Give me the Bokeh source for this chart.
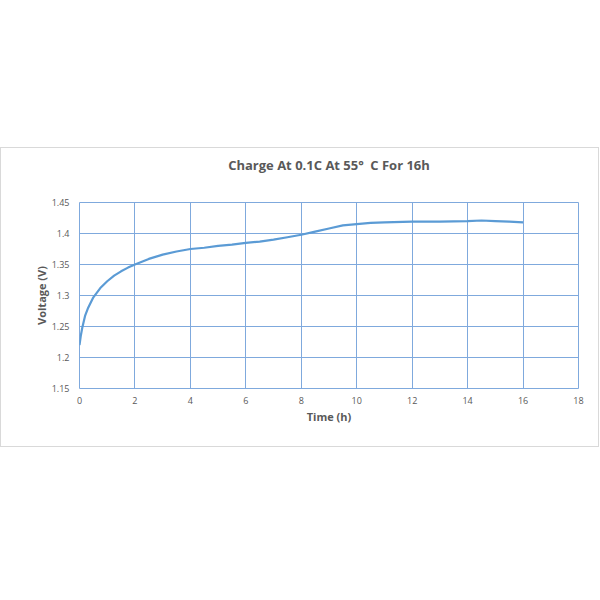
from bokeh.plotting import figure
from bokeh.models import FixedTicker, Range1d, Spacer, Title
from bokeh.layouts import column
from bokeh.embed import file_html
from bokeh.resources import INLINE

# data
time_h = [0, 0.05, 0.1, 0.2, 0.3, 0.5, 0.75, 1.0, 1.25, 1.5, 1.75, 2.0, 2.5, 3.0, 3.5,
          4.0, 4.5, 5.0, 5.5, 6.0, 6.5, 7.0, 7.5, 8.0, 8.5, 9.0, 9.5, 10.0, 10.5,
          11.0, 12.0, 13.0, 14.0, 14.5, 15.0, 15.5, 16.0]
voltage = [1.220, 1.236, 1.248, 1.267, 1.279, 1.297, 1.312, 1.323, 1.332, 1.339, 1.345,
           1.350, 1.359, 1.366, 1.371, 1.375, 1.377, 1.380, 1.382, 1.385, 1.387, 1.390,
           1.394, 1.398, 1.403, 1.408, 1.413, 1.415, 1.417, 1.418, 1.419, 1.419, 1.420,
           1.421, 1.420, 1.419, 1.418]
x_ticks = [0, 2, 4, 6, 8, 10, 12, 14, 16, 18]
y_ticks = [1.15, 1.2, 1.25, 1.3, 1.35, 1.4, 1.45]
y_tick_labels = ["1.15", "1.2", "1.25", "1.3", "1.35", "1.4", "1.45"]
title_text = "Charge At 0.1C At 55\u00b0\u2002C For 16h"

grid_color = "#7fa9dd"
text_color = "#595959"
font = "Open Sans"

p = figure(frame_width=497, frame_height=184, min_border_left=78, min_border_right=22,
           min_border_top=54, min_border_bottom=60, output_backend="svg",
           toolbar_location=None, x_range=Range1d(0, 18), y_range=Range1d(1.15, 1.45))
p.background_fill_color = "white"
p.border_fill_color = "white"
p.outline_line_color = grid_color
p.outline_line_width = 1
p.styles = {"border": "1px solid #d9d9d9"}

p.line(time_h, voltage, line_color="#5b9bd5", line_width=2.2)

p.xaxis.ticker = FixedTicker(ticks=x_ticks)
p.yaxis.ticker = FixedTicker(ticks=y_ticks)
p.yaxis.major_label_overrides = {t: l for t, l in zip(y_ticks, y_tick_labels)}
for ax in (p.xaxis, p.yaxis):
    ax.axis_line_color = None
    ax.major_tick_line_color = None
    ax.minor_tick_line_color = None
    ax.major_label_text_color = text_color
    ax.major_label_text_font = font
    ax.major_label_text_font_size = "9px"
    ax.axis_label_text_color = text_color
    ax.axis_label_text_font = font
    ax.axis_label_text_font_size = "11px"
    ax.axis_label_text_font_style = "bold"
p.xaxis.axis_label = "Time (h)"
p.yaxis.axis_label = "Voltage (V)"
p.xaxis.major_label_standoff = 2
p.yaxis.major_label_standoff = 4
p.xaxis.axis_label_standoff = 2
p.yaxis.axis_label_standoff = 0

p.xgrid.grid_line_color = grid_color
p.ygrid.grid_line_color = grid_color
p.xgrid.grid_line_width = 1
p.ygrid.grid_line_width = 1

# spacer title between the frame and the main title
p.add_layout(Title(text=" ", text_font_size="20px", standoff=0), "above")

p.title.text = title_text
p.title.align = "center"
p.title.text_color = text_color
p.title.text_font = font
p.title.text_font_size = "13px"
p.title.text_font_style = "bold"

layout = column(Spacer(height=147, width=10), p)

open("out.html", "w").write(file_html(layout, INLINE))
